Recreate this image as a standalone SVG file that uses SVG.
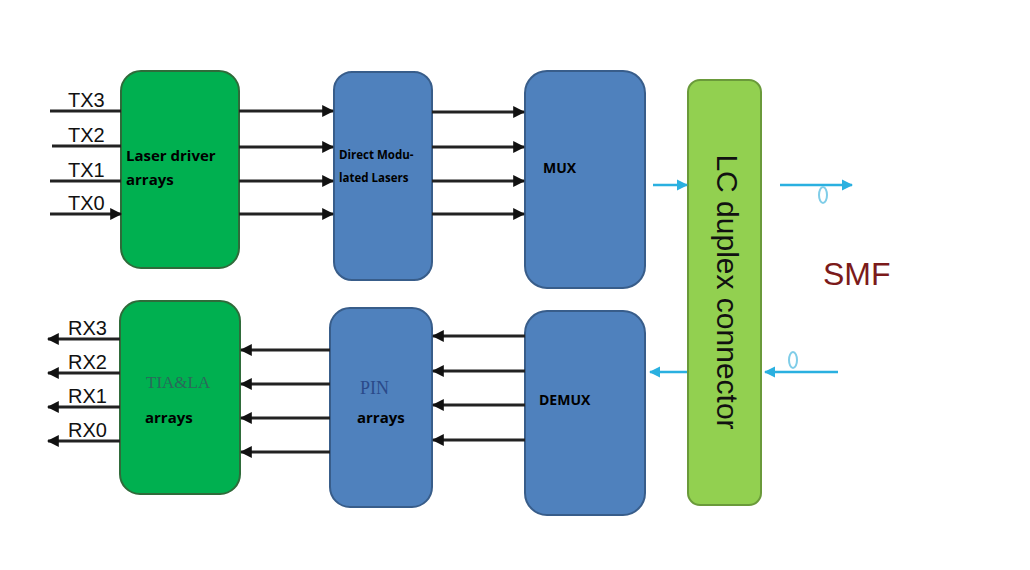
<svg xmlns="http://www.w3.org/2000/svg" width="1030" height="570" viewBox="0 0 1030 570">
<defs>
<style>
.g{fill:#00b050;stroke:#2f6b3a;stroke-width:2}
.b{fill:#4f81bd;stroke:#385d8a;stroke-width:2}
.l{stroke:#222;stroke-width:3;fill:none}
.c{stroke:#2ab0e0;stroke-width:2.5;fill:none}
.t{font-family:"Open Sans","DejaVu Sans",sans-serif;font-weight:bold;fill:#000}
.n{font-family:"Liberation Sans Narrow","Liberation Sans",sans-serif;font-size:20px;fill:#111}
</style>
<marker id="a" viewBox="0 0 10 10" refX="9" refY="5" markerWidth="4" markerHeight="4" orient="auto"><path d="M0,0L10,5L0,10z" fill="#111"/></marker>
<marker id="ab" viewBox="0 0 10 10" refX="9" refY="5" markerWidth="4.5" markerHeight="4.5" orient="auto"><path d="M0,0L10,5L0,10z" fill="#2ab0e0"/></marker>
</defs>
<rect width="1030" height="570" fill="#fff"/>
<g id="ld"><rect class="g" x="121" y="71" width="118" height="197" rx="20"/><text class="t" x="126" y="161" font-size="15">Laser driver</text><text class="t" x="126" y="185" font-size="15">arrays</text></g>
<g id="dml"><rect class="b" x="334" y="72" width="98" height="208" rx="18"/><text class="t" x="339" y="159" font-size="11.5" fill="#0b1a3a">Direct Modu-</text><text class="t" x="339" y="182" font-size="11.5" fill="#0b1a3a">lated Lasers</text></g>
<g id="mux"><rect class="b" x="525" y="71" width="120" height="217" rx="22"/><text class="t" x="543" y="173" font-size="14" fill="#0b1a3a">MUX</text></g>
<g id="lc"><rect x="688" y="80" width="73" height="425" rx="12" fill="#92d050" stroke="#6a9a3a" stroke-width="2"/><text x="725" y="292" transform="rotate(90 725 292)" text-anchor="middle" dominant-baseline="middle" font-family="Liberation Sans,sans-serif" font-size="30" fill="#111">LC duplex connector</text></g>
<g id="tia"><rect class="g" x="120" y="301" width="120" height="193" rx="20"/><text x="146" y="388" font-family="Liberation Serif,serif" font-size="17" fill="#2a6a5a">TIA&amp;LA</text><text class="t" x="145" y="423" font-size="15">arrays</text></g>
<g id="pin"><rect class="b" x="330" y="308" width="102" height="199" rx="20"/><text x="360" y="394" font-family="Liberation Serif,serif" font-size="18" fill="#2a4a8a">PIN</text><text class="t" x="357" y="423" font-size="15" fill="#0b1a3a">arrays</text></g>
<g id="demux"><rect class="b" x="525" y="311" width="120" height="204" rx="22"/><text class="t" x="539" y="405" font-size="14" fill="#0b1a3a">DEMUX</text></g>
<text x="823" y="285" font-family="Liberation Sans,sans-serif" font-size="32" fill="#7b1a1a">SMF</text>
<g id="labels">
<text class="n" x="68" y="107">TX3</text><text class="n" x="68" y="142">TX2</text><text class="n" x="68" y="177">TX1</text><text class="n" x="68" y="210">TX0</text>
<text class="n" x="68" y="335">RX3</text><text class="n" x="68" y="369">RX2</text><text class="n" x="68" y="403">RX1</text><text class="n" x="68" y="437">RX0</text>
</g>
<g id="connectors">
<path class="l" marker-end="url(#a)" d="M50,111H121M52,146H121M50,181H121M50,214H121"/>
<path class="l" marker-end="url(#a)" d="M239,111H333"/><path class="l" marker-end="url(#a)" d="M239,147H333"/><path class="l" marker-end="url(#a)" d="M239,181H333"/><path class="l" marker-end="url(#a)" d="M239,214H333"/>
<path class="l" marker-end="url(#a)" d="M432,112H524"/><path class="l" marker-end="url(#a)" d="M432,147H524"/><path class="l" marker-end="url(#a)" d="M432,181H524"/><path class="l" marker-end="url(#a)" d="M432,214H524"/>
<path class="l" marker-end="url(#a)" d="M120,339H48"/><path class="l" marker-end="url(#a)" d="M120,373H48"/><path class="l" marker-end="url(#a)" d="M120,407H48"/><path class="l" marker-end="url(#a)" d="M120,441H48"/>
<path class="l" marker-end="url(#a)" d="M330,350H241"/><path class="l" marker-end="url(#a)" d="M330,384H241"/><path class="l" marker-end="url(#a)" d="M330,418H241"/><path class="l" marker-end="url(#a)" d="M330,452H241"/>
<path class="l" marker-end="url(#a)" d="M525,336H433"/><path class="l" marker-end="url(#a)" d="M525,371H433"/><path class="l" marker-end="url(#a)" d="M525,405H433"/><path class="l" marker-end="url(#a)" d="M525,440H433"/>
<path class="c" marker-end="url(#ab)" d="M653,185H687"/>
<path class="c" marker-end="url(#ab)" d="M780,185H852"/>
<ellipse cx="823" cy="195" rx="4" ry="8" fill="none" stroke="#7fcde8" stroke-width="2"/>
<path class="c" marker-end="url(#ab)" d="M838,372H765"/>
<ellipse cx="793" cy="360" rx="4" ry="8" fill="none" stroke="#7fcde8" stroke-width="2"/>
<path class="c" marker-end="url(#ab)" d="M687,372H650"/>
</g>
</svg>
